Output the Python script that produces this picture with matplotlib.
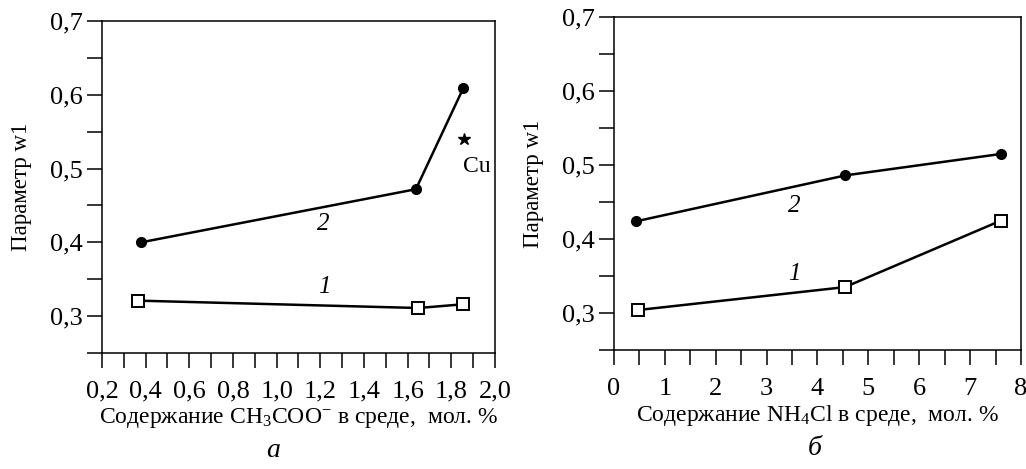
import numpy as np
import matplotlib as mpl
import matplotlib.pyplot as plt
from matplotlib.ticker import MultipleLocator, FuncFormatter

mpl.rcParams['font.family'] = ['Liberation Serif', 'DejaVu Serif']
mpl.rcParams['mathtext.fontset'] = 'custom'
mpl.rcParams['mathtext.rm'] = 'Liberation Serif'
mpl.rcParams['mathtext.it'] = 'Liberation Serif:italic'

# panel a: acetate content
xa_1 = [0.363, 1.649, 1.852]
ya_1 = [0.321, 0.311, 0.316]
xa_2 = [0.379, 1.638, 1.855]
ya_2 = [0.400, 0.472, 0.609]
cu_x = [1.86]
cu_y = [0.540]

# panel b: NH4Cl content
xb_1 = [0.47, 4.54, 7.61]
yb_1 = [0.304, 0.335, 0.425]
xb_2 = [0.44, 4.55, 7.61]
yb_2 = [0.424, 0.486, 0.515]

comma = FuncFormatter(lambda v, p: ('%.1f' % v).replace('.', ','))
intfmt = FuncFormatter(lambda v, p: '%d' % round(v))

fig = plt.figure(figsize=(10.26, 4.69), dpi=100)
axa = fig.add_axes([0.0994, 0.2473, 0.383, 0.708])
axb = fig.add_axes([0.5984, 0.2537, 0.3967, 0.710])

def style(ax):
    for s in ax.spines.values():
        s.set_linewidth(1.1)
    ax.set_ylim(0.25, 0.7)
    ax.yaxis.set_major_locator(MultipleLocator(0.1))
    ax.yaxis.set_minor_locator(MultipleLocator(0.05))
    ax.yaxis.set_major_formatter(comma)
    ax.tick_params(which='both', direction='out', length=10.5, width=1.1,
                   labelsize=19)
    ax.tick_params(axis='x', which='both', pad=9.5)
    ax.tick_params(axis='y', which='both', pad=3)
    ax.set_ylabel('Параметр w1', fontsize=16.5, labelpad=13)

line_kw = dict(color='black', lw=1.8)

axa.plot(xa_1, ya_1, marker='s', ms=8.5, mfc='white', mec='black', mew=1.4, **line_kw)
axa.plot(xa_2, ya_2, marker='o', ms=7, mfc='black', mec='black', **line_kw)
axa.plot(cu_x, cu_y, marker='*', ms=9, color='black', ls='none')
axa.text(1.918, 0.503, 'Cu', fontsize=17, ha='center', va='center')
axa.text(1.212, 0.425, '2', fontsize=18, style='italic', ha='center', va='center')
axa.text(1.22, 0.339, '1', fontsize=18, style='italic', ha='center', va='center')
style(axa)
axa.set_xlim(0.2, 2.0)
axa.xaxis.set_major_locator(MultipleLocator(0.2))
axa.xaxis.set_minor_locator(MultipleLocator(0.1))
axa.xaxis.set_major_formatter(comma)
axa.set_xlabel('Содержание CH$_3$COO$^{-}$ в среде,  мол. %', fontsize=17, labelpad=2)

axb.plot(xb_1, yb_1, marker='s', ms=8.5, mfc='white', mec='black', mew=1.4, **line_kw)
axb.plot(xb_2, yb_2, marker='o', ms=7, mfc='black', mec='black', **line_kw)
axb.text(3.54, 0.444, '2', fontsize=18, style='italic', ha='center', va='center')
axb.text(3.54, 0.353, '1', fontsize=18, style='italic', ha='center', va='center')
style(axb)
axb.set_xlim(0, 8)
axb.xaxis.set_major_locator(MultipleLocator(1))
axb.xaxis.set_minor_locator(MultipleLocator(0.5))
axb.xaxis.set_major_formatter(intfmt)
axb.set_xlabel('Содержание NH$_4$Cl в среде,  мол. %', fontsize=17, labelpad=2)

fig.text(273 / 1026, 1 - 450 / 469, 'а', fontsize=20, style='italic', ha='center', va='center')
fig.text(815 / 1026, 1 - 448 / 469, 'б', fontsize=20, style='italic', ha='center', va='center')

fig.savefig('out.png', dpi=100)
